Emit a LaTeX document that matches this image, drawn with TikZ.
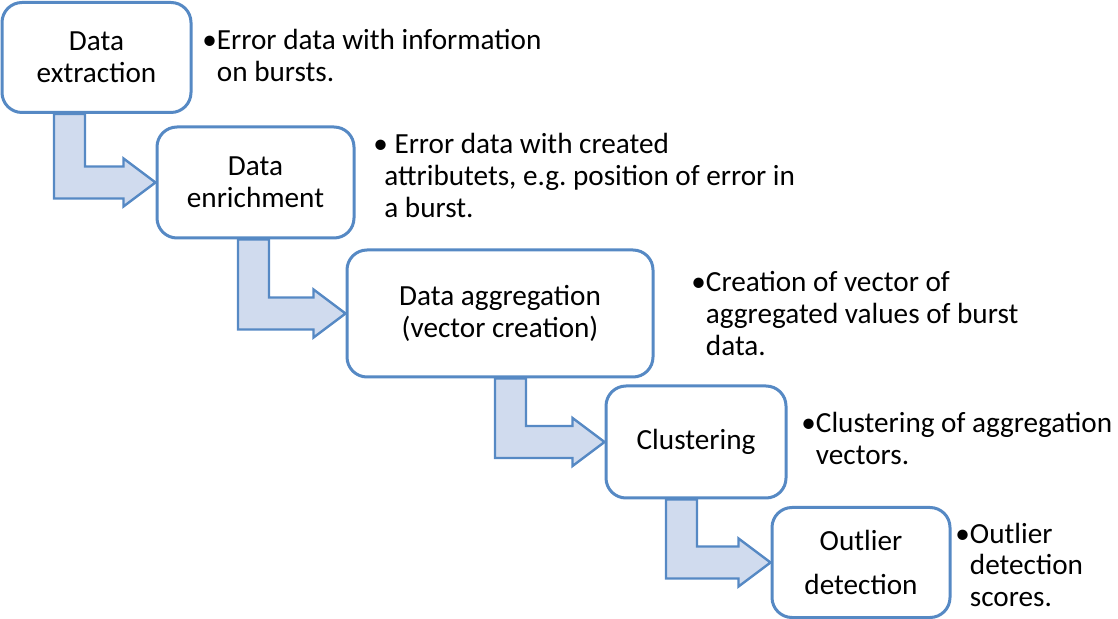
\documentclass[tikz,border=0pt]{standalone}
\usepackage{fontspec}
\setmainfont{Carlito}
\usetikzlibrary{positioning, calc, backgrounds}
\definecolor{boxblue}{RGB}{86,137,196}
\definecolor{arrowfill}{RGB}{208,219,238}
\frenchspacing
\tikzset{
  stage/.style={draw=boxblue, line width=1.5pt, fill=white, rounded corners=10pt,
    align=center, inner sep=2pt, font=\fontsize{14.6}{16}\selectfont},
  note/.style={anchor=base west, inner sep=0pt, font=\fontsize{14.6}{16}\selectfont},
  flowarrow/.style={draw=boxblue, line width=1.2pt, fill=arrowfill, line join=miter},
}
% bent block arrow: from, to, left x of the vertical shaft (px)
\newcommand\bentarrow[3]{%
  \path[flowarrow] let \p1=(#1.south), \p2=(#2.west), \p3=(#3,0) in
    (\x3,\y1) -- (\x3,\y2-8pt) -- (\x2-16pt,\y2-8pt) -- (\x2-16pt,\y2-12pt)
    -- (\x2,\y2) -- (\x2-16pt,\y2+12pt) -- (\x2-16pt,\y2+8pt)
    -- (\x3+15.5pt,\y2+8pt) -- (\x3+15.5pt,\y1) -- cycle;}
\newcommand\bulletnote[2]{\begin{tabular}[t]{@{}l@{}l@{}}\textbullet & #1\\ #2\end{tabular}}

\begin{document}
\begin{tikzpicture}[x=0.5pt, y=-0.5pt]
  \useasboundingbox (0,0) rectangle (1118,619);

  \node[stage, minimum width=94.5pt, minimum height=55pt] (extract) at (96.5,57.5) {Data\\extraction};
  \node[stage, minimum width=98.5pt, minimum height=55.5pt] (enrich) at (255.5,182.5) {Data\\enrichment};
  \node[stage, minimum width=153pt, minimum height=63.5pt] (aggr) at (500,313.5) {Data aggregation\\(vector creation)};
  \node[stage, minimum width=90pt, minimum height=56pt] (clust) at (696,442) {Clustering};
  \node[stage, minimum width=89pt, minimum height=55pt, font=\fontsize{14.6}{22}\selectfont] (outl) at (861,562.5) {Outlier\\detection};

  \node[note] (extractnote) at (202,50) {\bulletnote{Error data with information}{& on bursts.}};
  \node[note] (enrichnote) at (373,154) {\bulletnote{\ Error data with created}{\multicolumn{2}{@{\hspace{5.5pt}}l@{}}{attributets, e.g. position of error in}\\ \multicolumn{2}{@{\hspace{5.5pt}}l@{}}{a burst.}}};
  \node[note] (aggrnote) at (691,292) {\bulletnote{Creation of vector of}{& aggregated values of burst\\ & data.}};
  \node[note] (clustnote) at (801,433) {\bulletnote{Clustering of aggregation}{& vectors.}};
  \node[note] (outlnote) at (955,543) {\bulletnote{Outlier}{& detection\\ & scores.}};

  \begin{pgfonlayer}{background}
    \bentarrow{extract}{enrich}{54}
    \bentarrow{enrich}{aggr}{238}
    \bentarrow{aggr}{clust}{495}
    \bentarrow{clust}{outl}{666}
  \end{pgfonlayer}
\end{tikzpicture}
\end{document}
